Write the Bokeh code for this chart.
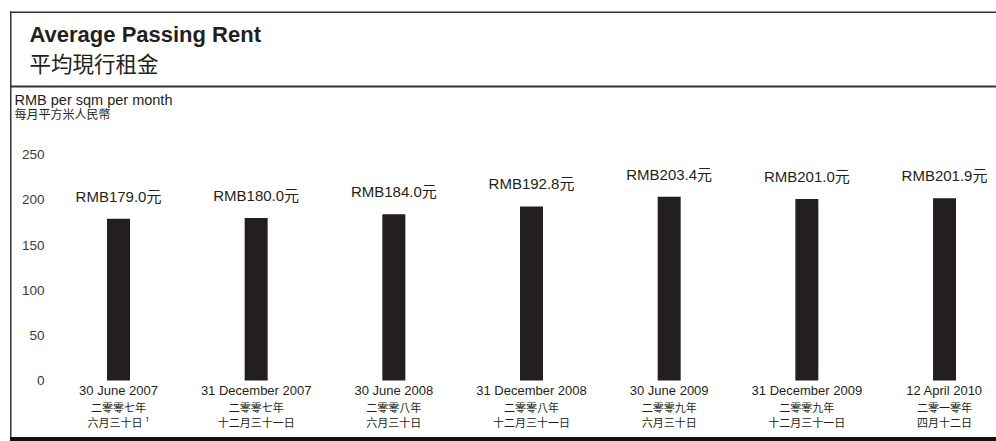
from bokeh.plotting import figure
from bokeh.models import Range1d, FixedTicker, ColumnDataSource, Label, BoxAnnotation
from bokeh.core.properties import value
from bokeh.embed import file_html
from bokeh.resources import INLINE

# ---- data ----
dates_en = ["30 June 2007", "31 December 2007", "30 June 2008", "31 December 2008",
            "30 June 2009", "31 December 2009", "12 April 2010"]
dates_year_zh = ["二零零七年", "二零零七年", "二零零八年", "二零零八年",
                 "二零零九年", "二零零九年", "二零一零年"]
dates_day_zh = ["六月三十日 ¹", "十二月三十一日", "六月三十日", "十二月三十一日",
                "六月三十日", "十二月三十一日", "四月十二日"]
rent = [179.0, 180.0, 184.0, 192.8, 203.4, 201.0, 201.9]
y_ticks = [0, 50, 100, 150, 200, 250]

FONT = "Liberation Sans, Noto Sans CJK TC"
CJK = "Noto Sans CJK TC"
INK = "#231f20"

idx = list(range(len(rent)))
src = ColumnDataSource(dict(
    x=idx,
    rent=rent,
    label=["RMB%.1f元" % v for v in rent],
    label_y=[v + 25.0 for v in rent],
    en=dates_en,
    yr=dates_year_zh,
    day=dates_day_zh,
))

W, H = 996, 441
p = figure(width=W, height=H, output_backend="svg", toolbar_location=None,
           x_axis_location=None,
           x_range=Range1d(-0.8571, 6.3776), y_range=Range1d(-67.55, 420.82),
           min_border_left=0, min_border_right=0, min_border_top=0, min_border_bottom=0)
p.outline_line_color = None
p.grid.visible = False
p.background_fill_color = "white"
p.border_fill_color = "white"

ax = p.yaxis[0]
ax.fixed_location = -0.5085
ax.ticker = FixedTicker(ticks=y_ticks)
ax.axis_line_color = None
ax.major_tick_line_color = None
ax.minor_tick_line_color = None
ax.major_tick_out = 0
ax.major_tick_in = 0
ax.major_label_standoff = 4
ax.major_label_text_font = FONT
ax.major_label_text_font_size = "13.5px"
ax.major_label_text_color = "#3a3a3a"

p.vbar(x="x", top="rent", bottom=0, width=0.167, source=src,
       fill_color=INK, line_color=None)

p.text(x="x", y="label_y", text="label", source=src, text_align="center",
       text_baseline="middle", text_font=value(FONT), text_font_size="15px",
       text_color=INK)

p.text(x="x", y=-11.1, text="en", source=src, text_align="center",
       text_baseline="middle", text_font=value(FONT), text_font_size="13px",
       text_color=INK)
p.text(x="x", y=-28.8, text="yr", source=src, text_align="center",
       text_baseline="middle", text_font=value(CJK), text_font_size="11px",
       text_color=INK)
p.text(x="x", y=-46.5, text="day", source=src, text_align="center",
       text_baseline="middle", text_font=value(CJK), text_font_size="11px",
       text_color=INK)

# frame lines (canvas units)
def box(l, r, t, b, color):
    p.add_layout(BoxAnnotation(left=l, right=r, top=t, bottom=b,
                               left_units="canvas", right_units="canvas",
                               top_units="canvas", bottom_units="canvas",
                               fill_color=color, fill_alpha=1.0, line_color=None,
                               level="overlay"))

box(9.5, W, 11, 12.5, "#333333")
box(9.5, 11, 11, 437, "#333333")
box(9.5, W, 85, 87, "#333333")
box(9.5, W, 436.5, H, "#111111")

def lab(x, y, text, size, bold=False, font=FONT):
    p.add_layout(Label(x=x, y=y, x_units="canvas", y_units="canvas", text=text,
                       text_baseline="middle", text_align="left",
                       text_font=font, text_font_size=size,
                       text_font_style="bold" if bold else "normal",
                       text_color=INK))

lab(29, 34, "Average Passing Rent", "22px", bold=True)
lab(29, 62, "平均現行租金", "21.5px", font=CJK)
lab(14, 99, "RMB per sqm per month", "14.5px")
lab(14, 113, "每月平方米人民幣", "12px", font=CJK)

open("out.html", "w").write(file_html(p, INLINE))
